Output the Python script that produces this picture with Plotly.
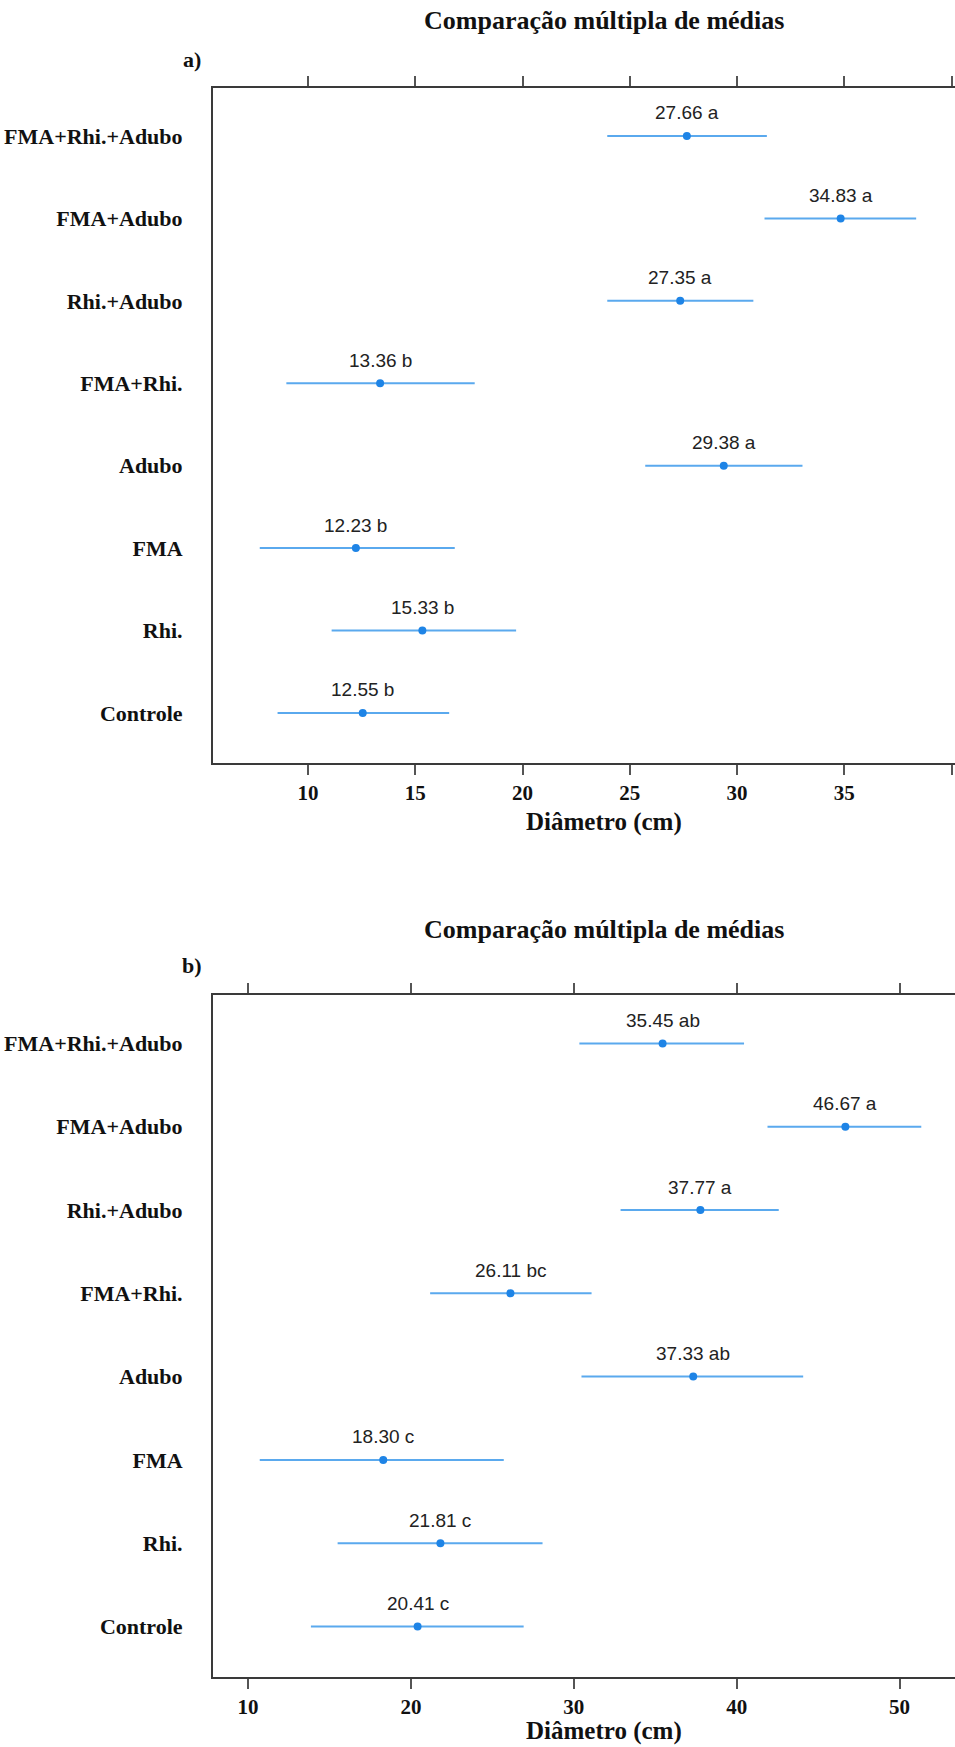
import plotly.graph_objects as go

# ---------------- data ----------------
categories = ["Controle", "Rhi.", "FMA", "Adubo", "FMA+Rhi.",
              "Rhi.+Adubo", "FMA+Adubo", "FMA+Rhi.+Adubo"]

a_means = [12.55, 15.33, 12.23, 29.38, 13.36, 27.35, 34.83, 27.66]
a_letters = ["b", "b", "b", "a", "b", "a", "a", "a"]
a_low = [8.58, 11.10, 7.75, 25.72, 8.99, 23.95, 31.28, 23.95]
a_high = [16.58, 19.70, 16.84, 33.05, 17.77, 30.76, 38.35, 31.39]

b_means = [20.41, 21.81, 18.30, 37.33, 26.11, 37.77, 46.67, 35.45]
b_letters = ["c", "c", "c", "ab", "bc", "a", "a", "ab"]
b_low = [13.86, 15.50, 10.72, 30.47, 21.18, 32.87, 41.89, 30.34]
b_high = [26.92, 28.08, 25.70, 44.08, 31.09, 42.58, 51.33, 40.45]

a_xticks = [10, 15, 20, 25, 30, 35, 40]
b_xticks = [10, 20, 30, 40, 50]

title_text = "Comparação múltipla de médias"
xlabel_text = "Diâmetro (cm)"

# ---------------- layout constants ----------------
W, H = 955, 1747
LINE_COL = "#5AA9EE"
MARK_COL = "#1E84E6"
FRAME_COL = "#3a3a3a"
SERIF = "Liberation Serif"
SANS = "Liberation Sans"


def py(px):
    return (H - px) / H


def px_x(px):
    return px / W


fig = go.Figure()

panels = [
    dict(means=a_means, letters=a_letters, low=a_low, high=a_high,
         xa="x", ya="y", ticks=a_xticks, xr=[5.57, 40.16],
         top=88, bottom=763, title_y=21, tag="a)", tag_y=60, xl_y=822),
    dict(means=b_means, letters=b_letters, low=b_low, high=b_high,
         xa="x2", ya="y2", ticks=b_xticks, xr=[7.85, 53.4],
         top=995, bottom=1677, title_y=929, tag="b)", tag_y=965, xl_y=1731),
]

yvals = list(range(len(categories)))

for i, p in enumerate(panels):
    plus = [h - m for h, m in zip(p["high"], p["means"])]
    minus = [m - l for m, l in zip(p["means"], p["low"])]
    fig.add_trace(go.Scatter(
        x=p["means"], y=yvals, mode="markers",
        xaxis=p["xa"], yaxis=p["ya"],
        marker=dict(color=MARK_COL, size=8),
        error_x=dict(type="data", symmetric=False, array=plus, arrayminus=minus,
                     color=LINE_COL, thickness=2, width=0),
        showlegend=False, hoverinfo="skip",
    ))
    for m, l, yv in zip(p["means"], p["letters"], yvals):
        fig.add_annotation(text=f"{m:.2f} {l}", x=m, y=yv,
                           xref=p["xa"], yref=p["ya"], showarrow=False,
                           xanchor="center", yanchor="middle", yshift=23,
                           font=dict(family=SANS, size=19, color="#222222"))

    sfx = "" if i == 0 else "2"
    fig.layout["xaxis" + sfx] = dict(
        domain=[px_x(213), 1.0], range=p["xr"], anchor="y" + sfx,
        tickvals=p["ticks"], ticktext=[str(t) for t in p["ticks"]],
        ticks="outside", ticklen=10, tickwidth=1.5, tickcolor="#555555",
        showline=True, linecolor=FRAME_COL, linewidth=2, mirror="ticks",
        showgrid=False, zeroline=False,
        tickfont=dict(family=SERIF, size=21, color="#111111", weight="bold"),
    )
    fig.layout["yaxis" + sfx] = dict(
        domain=[py(p["bottom"]), py(p["top"])], range=[-0.607, 7.582],
        anchor="x" + sfx,
        tickvals=yvals, ticktext=categories, ticks="",
        showline=True, linecolor=FRAME_COL, linewidth=2, mirror=False,
        showgrid=False, zeroline=False, ticklabelstandoff=24,
        tickfont=dict(family=SERIF, size=22, color="#111111", weight="bold"),
    )
    fig.add_annotation(text=title_text, x=px_x(604), y=py(p["title_y"]),
                       xref="paper", yref="paper", showarrow=False,
                       xanchor="center", yanchor="middle",
                       font=dict(family=SERIF, size=26, color="#111111", weight="bold"))
    fig.add_annotation(text=p["tag"], x=px_x(192), y=py(p["tag_y"]),
                       xref="paper", yref="paper", showarrow=False,
                       xanchor="center", yanchor="middle",
                       font=dict(family=SERIF, size=22, color="#111111", weight="bold"))
    fig.add_annotation(text=xlabel_text, x=px_x(604), y=py(p["xl_y"]),
                       xref="paper", yref="paper", showarrow=False,
                       xanchor="center", yanchor="middle",
                       font=dict(family=SERIF, size=25, color="#111111", weight="bold"))

fig.update_layout(width=W, height=H, margin=dict(l=0, r=0, t=0, b=0),
                  paper_bgcolor="white", plot_bgcolor="white")

fig.write_html("out.html")
